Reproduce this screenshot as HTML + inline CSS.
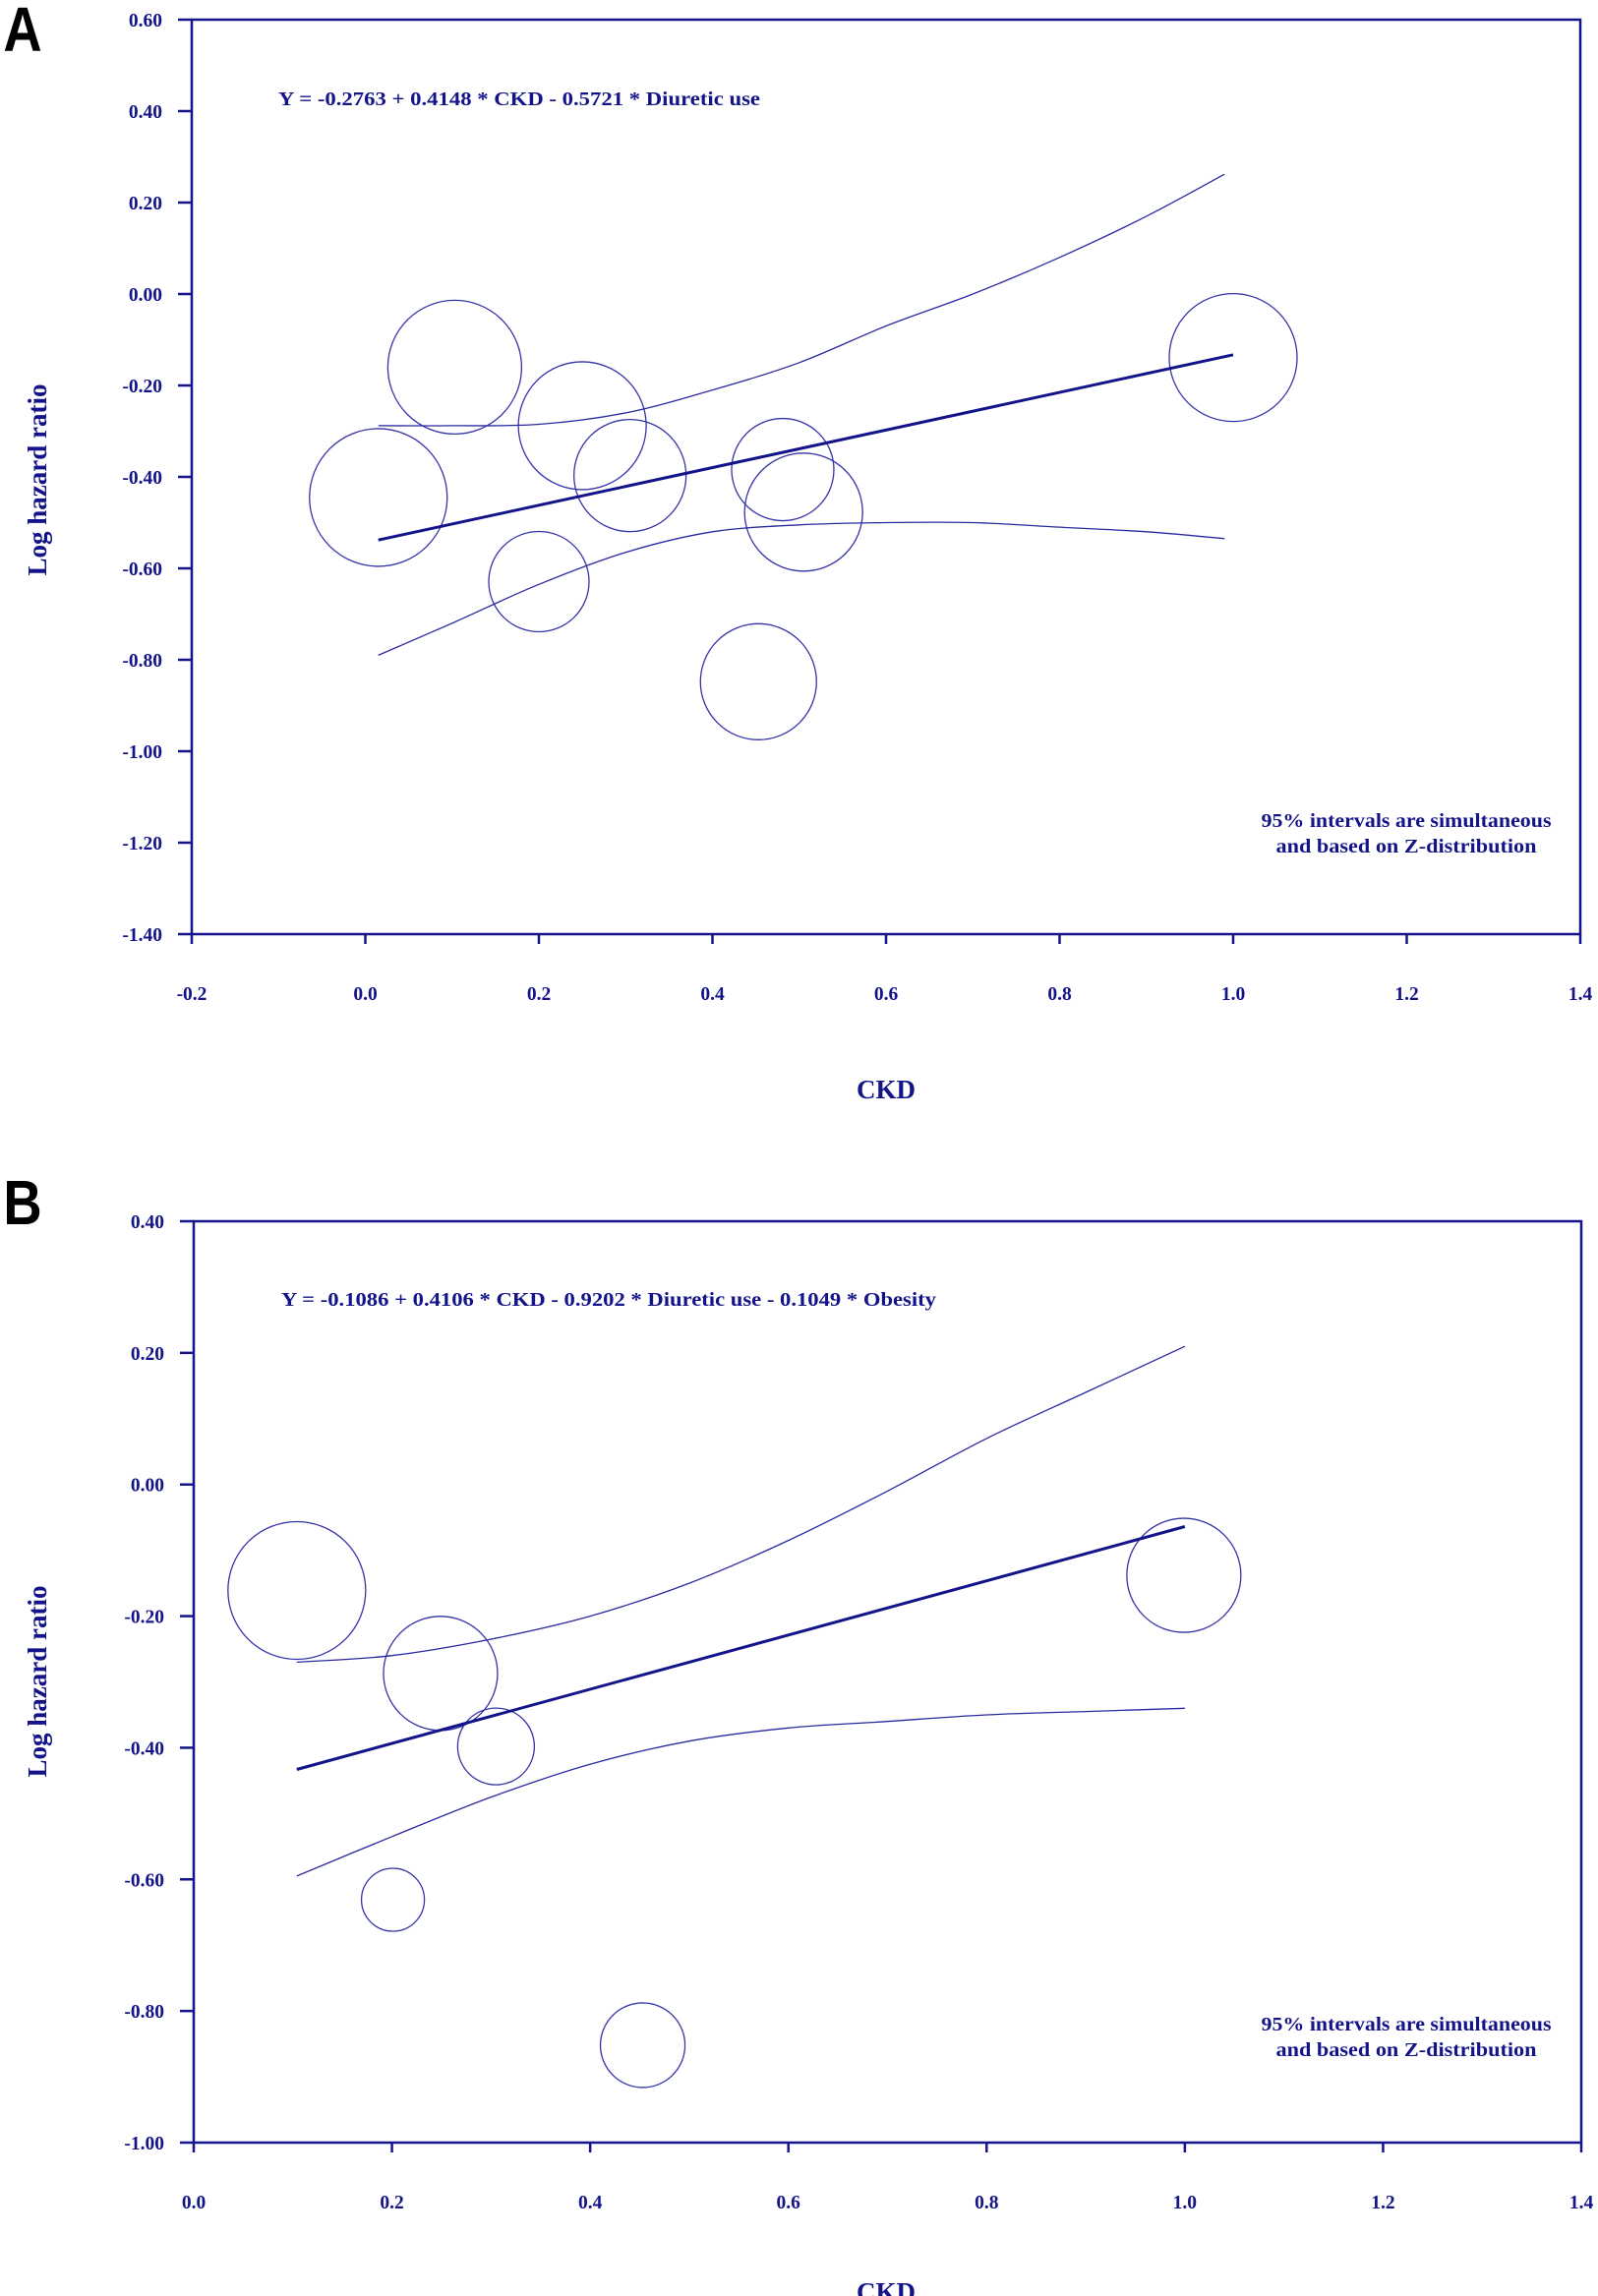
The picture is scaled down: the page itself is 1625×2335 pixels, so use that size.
<!DOCTYPE html>
<html>
<head>
<meta charset="utf-8">
<style>
html,body{margin:0;padding:0;background:#fff;}
svg{display:block;}
text{font-family:"Liberation Serif",serif;font-weight:bold;fill:#14148a;}
.lbl{font-family:"Liberation Sans",sans-serif;fill:#000;}
</style>
</head>
<body>
<svg id="chart" width="1625" height="2335" viewBox="0 0 1625 2335" xmlns="http://www.w3.org/2000/svg"></svg>
<script>
// ---- Panel A data ----
const aStudyX = [0.103, 0.015, 0.25, 0.305, 0.20, 0.481, 0.505, 0.453, 1.0];
const aStudyY = [-0.16, -0.445, -0.288, -0.397, -0.629, -0.384, -0.477, -0.848, -0.139];
const aStudyR = [68, 70, 65, 57, 51, 52, 60, 59, 65];
const aLineX = [0.015, 1.0];
const aLineY = [-0.538, -0.133];
const aCiX = [0.015, 0.1, 0.2, 0.3, 0.4, 0.5, 0.6, 0.7, 0.8, 0.9, 0.99];
const aUpper = [-0.288, -0.288, -0.285, -0.26, -0.21, -0.15, -0.07, 0.0, 0.08, 0.17, 0.262];
const aLower = [-0.79, -0.72, -0.635, -0.565, -0.52, -0.505, -0.50, -0.50, -0.51, -0.52, -0.535];
const aXTicks = ["-0.2","0.0","0.2","0.4","0.6","0.8","1.0","1.2","1.4"];
const aYTicks = ["0.60","0.40","0.20","0.00","-0.20","-0.40","-0.60","-0.80","-1.00","-1.20","-1.40"];
// ---- Panel B data ----
const bStudyX = [0.104, 0.249, 0.305, 0.201, 0.453, 0.999];
const bStudyY = [-0.161, -0.287, -0.398, -0.631, -0.852, -0.138];
const bStudyR = [70, 58, 39, 32, 43, 58];
const bLineX = [0.104, 1.0];
const bLineY = [-0.433, -0.064];
const bCiX = [0.104, 0.2, 0.3, 0.4, 0.5, 0.6, 0.7, 0.8, 0.9, 1.0];
const bUpper = [-0.27, -0.26, -0.235, -0.2, -0.15, -0.085, -0.01, 0.07, 0.14, 0.21];
const bLower = [-0.595, -0.535, -0.475, -0.425, -0.39, -0.37, -0.36, -0.35, -0.345, -0.34];
const bXTicks = ["0.0","0.2","0.4","0.6","0.8","1.0","1.2","1.4"];
const bYTicks = ["0.40","0.20","0.00","-0.20","-0.40","-0.60","-0.80","-1.00"];

const NS = "http://www.w3.org/2000/svg";
const svg = document.getElementById("chart");
function mk(tag, attrs, parent, txt){
  const e = document.createElementNS(NS, tag);
  for (const k in attrs) e.setAttribute(k, attrs[k]);
  if (txt !== undefined) e.textContent = txt;
  (parent || svg).appendChild(e);
  return e;
}
function smooth(pts){
  let d = "M" + pts[0][0].toFixed(1) + "," + pts[0][1].toFixed(1);
  for (let i = 0; i < pts.length - 1; i++){
    const p0 = pts[Math.max(0, i-1)], p1 = pts[i], p2 = pts[i+1], p3 = pts[Math.min(pts.length-1, i+2)];
    const c1x = p1[0] + (p2[0]-p0[0])/6, c1y = p1[1] + (p2[1]-p0[1])/6;
    const c2x = p2[0] - (p3[0]-p1[0])/6, c2y = p2[1] - (p3[1]-p1[1])/6;
    d += " C" + c1x.toFixed(1) + "," + c1y.toFixed(1) + " " + c2x.toFixed(1) + "," + c2y.toFixed(1) + " " + p2[0].toFixed(1) + "," + p2[1].toFixed(1);
  }
  return d;
}

function panel(p){
  const g = mk("g", {});
  
  
  const xmin = parseFloat(p.xTicks[0]), xmax = parseFloat(p.xTicks[p.xTicks.length-1]);
  const ymax = parseFloat(p.yTicks[0]), ymin = parseFloat(p.yTicks[p.yTicks.length-1]);
  const sx = v => p.L + (v - xmin) / (xmax - xmin) * (p.R - p.L);
  const sy = v => p.T + (ymax - v) / (ymax - ymin) * (p.B - p.T);

  const letter = mk("text", {x: 3, y: p.letterY, class: "lbl", "font-size": 64, transform: "scale(0.85,1) translate(1,0)"}, g, p.letter);
  
  

  const frame = mk("rect", {x: p.L, y: p.T, width: p.R - p.L, height: p.B - p.T, fill: "none", stroke: "#14148a", "stroke-width": 2.5}, g);
  
  

  p.yTicks.forEach(t => {
    const y = sy(parseFloat(t));
    const tk = mk("line", {x1: p.L - 14, x2: p.L, y1: y, y2: y, stroke: "#14148a", "stroke-width": 2.5}, g);
    
    
    const tl = mk("text", {x: p.L - 30, y: y + 7, "text-anchor": "end", "font-size": 19.5}, g, t);
    
    
  });
  p.xTicks.forEach(t => {
    const x = sx(parseFloat(t));
    const tk = mk("line", {x1: x, x2: x, y1: p.B, y2: p.B + 10, stroke: "#14148a", "stroke-width": 2.5}, g);
    
    
    const tl = mk("text", {x: x, y: p.B + p.xLabOff, "text-anchor": "middle", "font-size": 19.5}, g, t);
    
    
  });

  const xt = mk("text", {x: 901, y: p.xTitleY, "text-anchor": "middle", "font-size": 27}, g, "CKD");
  
  
  const yt = mk("text", {x: 0, y: 0, "text-anchor": "middle", "font-size": 27, transform: "translate(47," + p.yTitleY + ") rotate(-90)"}, g, "Log hazard ratio");
  
  

  const eq = mk("text", {x: p.eqX, y: p.eqY, "font-size": 19.5, textLength: p.eqW, lengthAdjust: "spacingAndGlyphs"}, g, p.eq);
  
  
  const n1 = mk("text", {x: 1430, y: p.noteY, "text-anchor": "middle", "font-size": 20, textLength: 295, lengthAdjust: "spacingAndGlyphs"}, g, "95% intervals are simultaneous");
  
  
  const n2 = mk("text", {x: 1430, y: p.noteY + 26, "text-anchor": "middle", "font-size": 20, textLength: 265, lengthAdjust: "spacingAndGlyphs"}, g, "and based on Z-distribution");
  
  

  p.sx.forEach((v, i) => {
    const c = mk("circle", {cx: sx(v), cy: sy(p.sy[i]), r: p.sr[i], fill: "none", stroke: "#3434a8", "stroke-width": 1.3}, g);
    
    
  });

  const pts = (xs, ys) => xs.map((v, i) => [sx(v), sy(ys[i])]);
  const up = mk("path", {d: smooth(pts(p.ciX, p.up)), fill: "none", stroke: "#2a2aa0", "stroke-width": 1.3}, g);
  
  
  const lo = mk("path", {d: smooth(pts(p.ciX, p.lo)), fill: "none", stroke: "#2a2aa0", "stroke-width": 1.3}, g);
  
  
  const rl = mk("path", {d: smooth(pts(p.lx, p.ly)), fill: "none", stroke: "#14148a", "stroke-width": 3}, g);
  
  
}

panel({name: "panel-a", letter: "A", letterY: 52, L: 195, R: 1607, T: 20, B: 950,
  xTicks: aXTicks, yTicks: aYTicks, xLabOff: 67, xTitleY: 1117, yTitleY: 488,
  eq: "Y = -0.2763 + 0.4148 * CKD - 0.5721 * Diuretic use", eqX: 283, eqY: 107, eqW: 490, noteY: 841,
  sx: aStudyX, sy: aStudyY, sr: aStudyR, lx: aLineX, ly: aLineY, ciX: aCiX, up: aUpper, lo: aLower});

panel({name: "panel-b", letter: "B", letterY: 1245, L: 197, R: 1608, T: 1242, B: 2179,
  xTicks: bXTicks, yTicks: bYTicks, xLabOff: 67, xTitleY: 2340, yTitleY: 1710,
  eq: "Y = -0.1086 + 0.4106 * CKD - 0.9202 * Diuretic use - 0.1049 * Obesity", eqX: 286, eqY: 1328, eqW: 666, noteY: 2065,
  sx: bStudyX, sy: bStudyY, sr: bStudyR, lx: bLineX, ly: bLineY, ciX: bCiX, up: bUpper, lo: bLower});
</script>
</body>
</html>
